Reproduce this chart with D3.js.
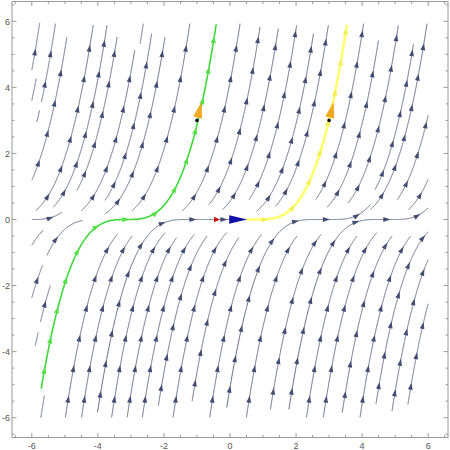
<!DOCTYPE html>
<html>
<head>
<meta charset="utf-8">
<script src="https://cdnjs.cloudflare.com/ajax/libs/d3/7.8.5/d3.min.js"></script>
<style>
  body { margin: 0; background: #fff; }
</style>
</head>
<body>
<div id="chart"></div>
<script>
// Field: dy/dx = 2 |y|^(2/3). Each streamline is y = ((x - c) / 1.5)^3,
// with an optional flat run on y = 0 between a and b (non-unique solutions).

// upper branches: [c, yFrom, yTo]
const upperLines = [
  [-8.48, 0, 5.95], [-8.30, 0, 4.26], [-8.0, 2.95, 3.3], [-8.0, 3.55, 5.93],
  [-7.59, 0, 5.52], [-6.85, 0.27, 5.88], [-6.43, 0.37, 5.88], [-6.07, 0.88, 5.53],
  [-6.0, 0, 0.22], [-5.47, 0.27, 5.12], [-5.34, 5.32, 5.93], [-5.04, 0.58, 5.63],
  [-4.62, 0.17, 5.52], [-3.93, 0.27, 5.93], [-2.41, 0.27, 5.93], [-1.79, 0.45, 5.83],
  [-1.23, 0.3, 5.78], [-0.69, 0.6, 5.88], [-0.14, 0.25, 5.63], [0.27, 0.4, 5.88],
  [1.33, 0.6, 5.93], [1.86, 0.37, 5.42], [2.39, 0.5, 5.88], [2.94, 0.9, 5.32],
  [3.25, 0.3, 5.93], [3.8, 0.6, 6], [4.4, 0.3, 6]
];

// lower branches: [c, yFrom, yTo]
const lowerLines = [
  [-4.62, -6, -0.33], [-4.0, -6, -1.39], [-4.0, -1.09, -0.03], [-3.55, -3.82, -3.41],
  [-3.55, -3.1, -2.0], [-3.0, -6, -5.33], [-2.26, -5.99, -0.45], [-1.77, -5.99, -0.5],
  [-0.86, -5.99, -0.4], [-0.39, -5.99, -0.55], [0.07, -5.99, -0.45], [0.5, -5.64, -0.5],
  [1.0, -5.99, -0.4], [1.5, -5.5, -0.55], [2.11, -5.99, -0.45], [3.22, -5.99, -0.5],
  [3.91, -5.75, -0.45], [5.04, -5.99, -0.5], [5.55, -5.99, -0.4], [6.1, -5.85, -0.5],
  [6.66, -5.99, -0.5], [7.08, -5.58, 0], [7.6, -5.8, 0], [8.05, -5.6, 0]
];

// lines running along y = 0: [a, b, yFrom, yTo]
const flatLines = [
  [-1.31, 0, -5.84, 0], [2.58, 3.1, -5.69, 0.45], [4.47, 4.94, -5.75, 6]
];

const greenSolution = [-3.13, -3.13, -5.12, 5.91];
const yellowSolution = [0.5, 0.83, 0, 5.9];
const initialPoints = [[-1, 3], [3, 3]];
const originArrow = [0, 0];
const redArrow = [-0.3, 0];

const majorTicks = [-6, -4, -2, 0, 2, 4, 6];
const minorTicks = d3.range(-6.5, 6.51, 0.5).filter(v => !majorTicks.includes(v));

const width = 450, height = 450;
const x = d3.scaleLinear().domain([-6.6, 6.6]).range([12, 448]);
const y = d3.scaleLinear().domain([-6.6, 6.6]).range([437.5, 1.5]);

const svg = d3.select("#chart").append("svg")
  .attr("width", width).attr("height", height)
  .style("font-family", "'Liberation Sans', Arial, sans-serif");

function curve(a, b) {
  return t => t < a ? -Math.pow((a - t) / 1.5, 3) : t <= b ? 0 : Math.pow((t - b) / 1.5, 3);
}
function xAt(a, b, v, atEnd) {
  if (v < 0) return a - 1.5 * Math.cbrt(-v);
  if (v > 0) return b + 1.5 * Math.cbrt(v);
  return atEnd ? b : a;
}
function streamPoints([a, b, from, to]) {
  const f = curve(a, b);
  const x0 = Math.max(-6, xAt(a, b, Math.max(from, -6), false));
  const x1 = Math.min(6, xAt(a, b, Math.min(to, 6), true));
  const n = 500, pts = [];
  for (let i = 0; i <= n; i++) {
    const t = x0 + (x1 - x0) * i / n;
    pts.push([x(t), y(f(t))]);
  }
  return pts;
}

// arrow heads every `gap` px along the polyline
function headsAlong(pts, first, gap) {
  const cum = [0];
  for (let i = 1; i < pts.length; i++)
    cum.push(cum[i - 1] + Math.hypot(pts[i][0] - pts[i - 1][0], pts[i][1] - pts[i - 1][1]));
  const total = cum[cum.length - 1], heads = [];
  let j = 1;
  for (let s = first; s <= total - 2; s += gap) {
    while (j < cum.length - 1 && cum[j] < s) j++;
    const p = pts[j - 1], q = pts[j];
    const r = (s - cum[j - 1]) / Math.max(1e-9, cum[j] - cum[j - 1]);
    heads.push({
      x: p[0] + (q[0] - p[0]) * r,
      y: p[1] + (q[1] - p[1]) * r,
      a: Math.atan2(q[1] - p[1], q[0] - p[0]) * 180 / Math.PI
    });
  }
  return heads;
}

const head = (len, w) => `M0,0L${-len},${-w}L${-len},${w}Z`;
const line = d3.line();

function drawStream(g, d, stroke, sw, fill, hl, hw) {
  const pts = streamPoints(d);
  g.append("path").attr("d", line(pts))
    .attr("fill", "none").attr("stroke", stroke).attr("stroke-width", sw);
  headsAlong(pts, 22, 31).forEach(h => {
    g.append("path").attr("d", head(hl, hw))
      .attr("transform", `translate(${h.x},${h.y}) rotate(${h.a})`)
      .attr("fill", fill);
  });
}

const streams = svg.append("g");
upperLines.forEach(([c, f, t]) => drawStream(streams, [c, c, f, t], "#5f6885", 1, "#434d72", 7, 2.4));
lowerLines.forEach(([c, f, t]) => drawStream(streams, [c, c, f, t], "#5f6885", 1, "#434d72", 7, 2.4));
flatLines.forEach(d => drawStream(streams, d, "#5f6885", 1, "#434d72", 7, 2.4));

// highlighted solutions
drawStream(svg.append("g"), greenSolution, "#3fd83a", 1.6, "#55e04a", 7, 2.6);
drawStream(svg.append("g").attr("opacity", 0.85), yellowSolution, "#ffff55", 2.6, "#f2ee3a", 7, 2.8);

// red arrow head on y = 0
svg.append("path").attr("d", head(6, 2.8))
  .attr("transform", `translate(${x(redArrow[0])},${y(redArrow[1])})`)
  .attr("fill", "#cc1414");

// blue arrow at the origin
svg.append("path").attr("d", head(18, 4.3))
  .attr("transform", `translate(${x(originArrow[0] + 0.52)},${y(originArrow[1])})`)
  .attr("fill", "#1010a8");

// orange direction arrows at the initial points
initialPoints.forEach(([px, py]) => {
  const s = 2 * Math.pow(py, 2 / 3);
  const ang = Math.atan2(-s, 1) * 180 / Math.PI;
  const dx = 19 / Math.hypot(1, s), tip = [x(px) + dx, y(py) - dx * s];
  svg.append("path").attr("d", head(16, 4.6))
    .attr("transform", `translate(${tip[0]},${tip[1]}) rotate(${ang})`)
    .attr("fill", "#f2a81e");
  svg.append("circle").attr("cx", x(px)).attr("cy", y(py)).attr("r", 1.8).attr("fill", "#111");
});

// frame
const frame = svg.append("g").attr("stroke", "#9a9a9a").attr("fill", "none");
frame.append("rect").attr("x", 12).attr("y", 1.5).attr("width", 436).attr("height", 436);
const tickSet = majorTicks.map(v => [v, 4.5]).concat(minorTicks.map(v => [v, 2.5]));
tickSet.forEach(([v, len]) => {
  frame.append("line").attr("x1", x(v)).attr("x2", x(v)).attr("y1", 437.5).attr("y2", 437.5 - len);
  frame.append("line").attr("x1", x(v)).attr("x2", x(v)).attr("y1", 1.5).attr("y2", 1.5 + len);
  frame.append("line").attr("y1", y(v)).attr("y2", y(v)).attr("x1", 12).attr("x2", 12 + len);
  frame.append("line").attr("y1", y(v)).attr("y2", y(v)).attr("x1", 448).attr("x2", 448 - len);
});

const labels = svg.append("g").attr("fill", "#555").attr("font-size", "9px");
majorTicks.forEach(v => {
  labels.append("text").attr("x", x(v)).attr("y", 448.5).attr("text-anchor", "middle").text(v);
  labels.append("text").attr("x", 10).attr("y", y(v) + 3.2).attr("text-anchor", "end").text(v);
});
</script>
</body>
</html>
